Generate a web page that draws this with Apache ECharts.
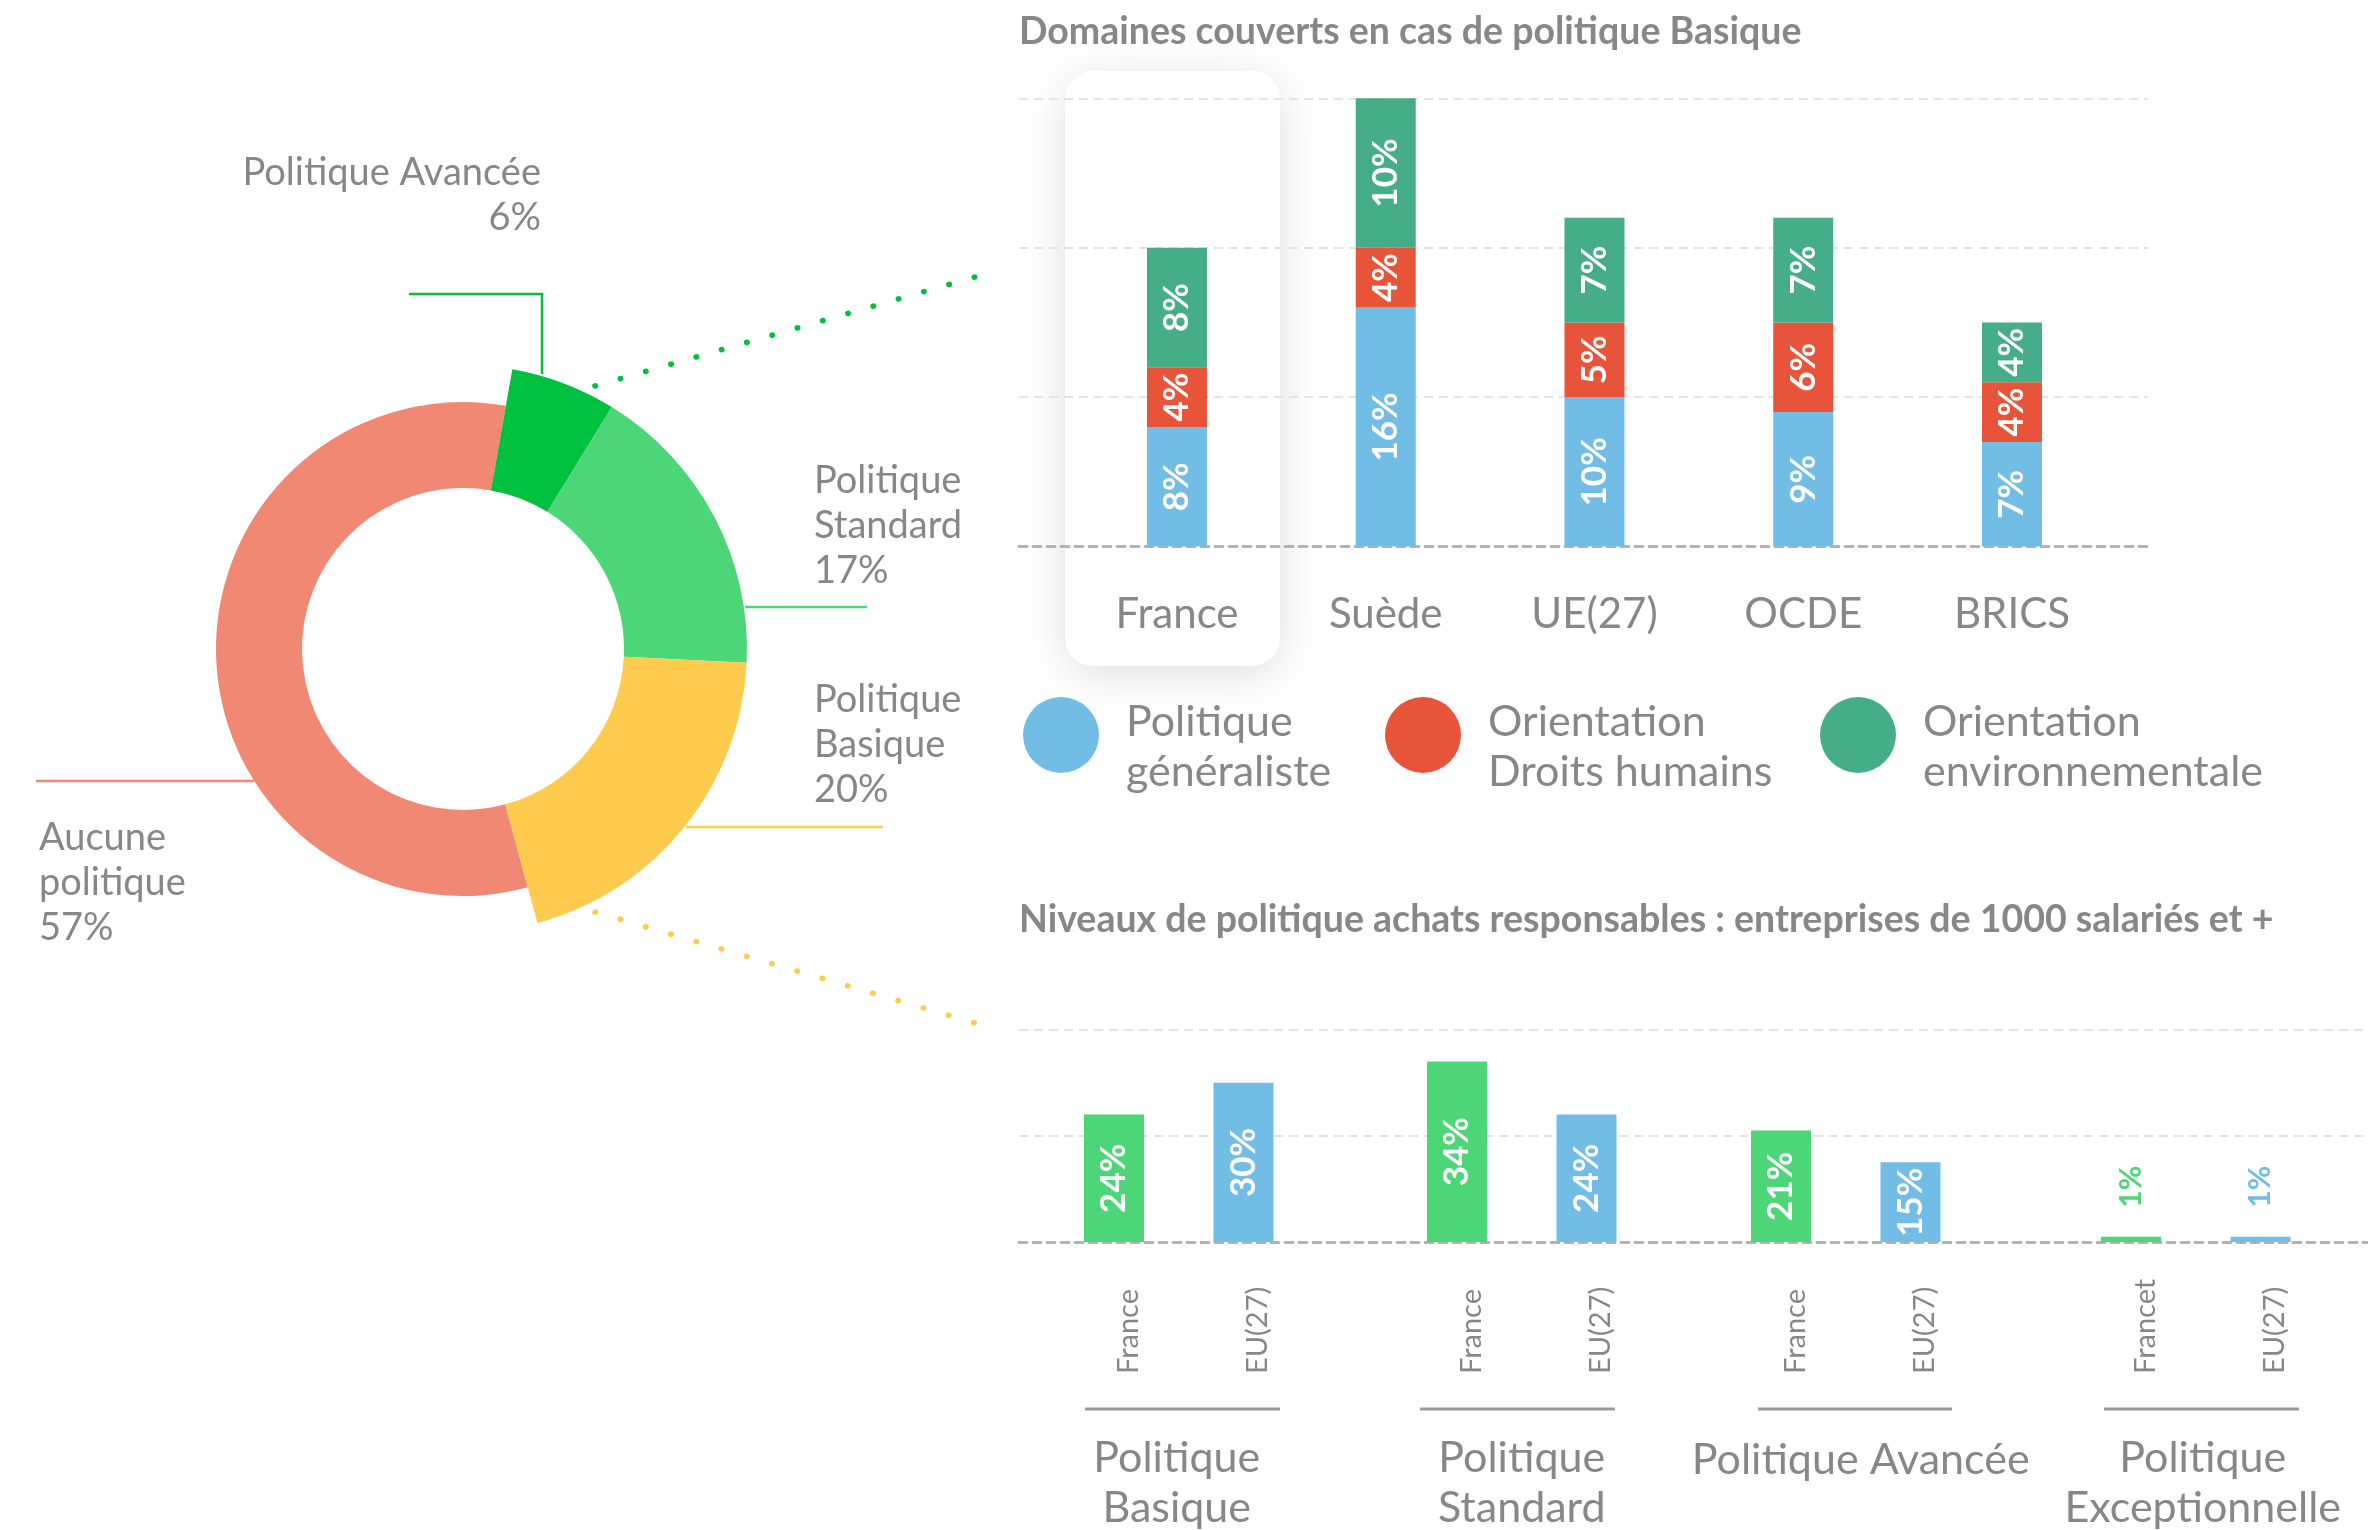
<!DOCTYPE html>
<html>
<head>
<meta charset="utf-8">
<script src="https://cdn.jsdelivr.net/npm/echarts@6/dist/echarts.min.js"></script>
<style>
    html, body { margin: 0; padding: 0; background: #fff; }
    #chart { width: 2368px; height: 1530px; }
</style>
</head>
<body>
<div id="chart"></div>
<script>
// donut
var pieNames = ['Politique Avancée', 'Politique Standard', 'Politique Basique', 'Aucune politique'];
var pieValues = [6, 17, 20, 57];
var pieLabels = ['Politique Avancée\n6%', 'Politique\nStandard\n17%', 'Politique\nBasique\n20%', 'Aucune\npolitique\n57%'];

// Domaines couverts (stacked)
var domainCategories = ['France', 'Suède', 'UE(27)', 'OCDE', 'BRICS'];
var generaliste = [8, 16, 10, 9, 7];
var droitsHumains = [4, 4, 5, 6, 4];
var environnement = [8, 10, 7, 7, 4];
var domainTicks = [0, 10, 20, 30];

// Niveaux de politique
var levelGroups = ['Politique\nBasique', 'Politique\nStandard', 'Politique Avancée', 'Politique\nExceptionnelle'];
var levelCountries = [['France', 'EU(27)'], ['France', 'EU(27)'], ['France', 'EU(27)'], ['Francet', 'EU(27)']];
var levelFrance = [24, 34, 21, 1];
var levelEU = [30, 24, 15, 1];
var levelTicks = [0, 20, 40];

// styles
var FONT = 'Lato, "Noto Sans", sans-serif';
var GREY = '#878787';
var pieColors = ['#00C13E', '#4CD677', '#FECB4F', '#F08873'];
var BLUE = '#72BDE6', RED = '#E8543A', TEAL = '#45AD88';
var FR_GREEN = '#4CD677';

// label spots for the donut (x, y, align, leader line)
var pieLabelSpots = [
    { x: 541, y: 195, align: 'right', line: [[542, 374], [542, 294], [409, 294]] },
    { x: 814, y: 526, align: 'left', line: [[745, 607], [806, 607], [867, 607]] },
    { x: 814, y: 745, align: 'left', line: [[686, 827], [784, 827], [883, 827]] },
    { x: 39, y: 883, align: 'left', line: [[254, 781], [145, 781], [36, 781]] }
];

var groupLefts = [1049.25, 1392.25, 1716.25, 2066.25];
var groupWidth = 259;
var groupRules = [[1085, 1280], [1420, 1615], [1758, 1952], [2104, 2299]];
var groupNameShift = [-2, 0, 15, 7];

var chart = echarts.init(document.getElementById('chart'), null, { renderer: 'canvas' });

function ringData(visible) {
    return pieValues.map(function (v, i) {
        var on = visible(i);
        return {
            name: pieNames[i],
            value: v,
            itemStyle: { color: on ? pieColors[i] : 'rgba(0,0,0,0)' },
            label: { show: on },
            labelLine: { show: on, lineStyle: { color: pieColors[i], width: 2.5 } }
        };
    });
}

var pieCommon = {
    type: 'pie',
    center: [463, 649],
    startAngle: 80,
    clockwise: true,
    silent: true,
    avoidLabelOverlap: false,
    emphasis: { disabled: true },
    label: {
        formatter: function (p) { return pieLabels[p.dataIndex]; },
        color: GREY,
        fontFamily: FONT,
        fontSize: 38,
        lineHeight: 45
    },
    labelLine: { show: true, smooth: false },
    labelLayout: function (p) {
        var s = pieLabelSpots[p.dataIndex];
        return {
            x: s.x,
            y: s.y,
            align: s.align,
            verticalAlign: 'middle',
            labelLinePoints: s.line
        };
    }
};

var grids = [
    { left: 1019, top: 98.3, width: 1129, height: 448.2 },      // background lines top
    { left: 1072.6, top: 98.3, width: 1043.75, height: 448.2 }, // stacked bars
    { left: 1019, top: 1029.6, right: 0, height: 212.4 }        // background lines bottom
];
groupLefts.forEach(function (l) {
    grids.push({ left: l, top: 1029.6, width: groupWidth, height: 212.4 });
});
grids.forEach(function (g) { g.outerBoundsMode = 'none'; });

var dashedBase = { show: true, lineStyle: { color: '#b3b3b3', width: 3, type: [8, 6] } };
var dashedGrid = { show: true, showMinLine: false, lineStyle: { color: '#e3e3e3', width: 2, type: [9, 6] } };

var xAxes = [
    { type: 'category', gridIndex: 0, data: [''], axisLine: dashedBase, axisTick: { show: false }, axisLabel: { show: false } },
    {
        type: 'category', gridIndex: 1, data: domainCategories,
        axisLine: { show: false }, axisTick: { show: false },
        axisLabel: { interval: 0, margin: 47, color: GREY, fontFamily: FONT, fontSize: 42, lineHeight: 42 }
    },
    { type: 'category', gridIndex: 2, data: [''], axisLine: dashedBase, axisTick: { show: false }, axisLabel: { show: false } }
];
var yAxes = [
    { type: 'value', gridIndex: 0, min: domainTicks[0], max: domainTicks[domainTicks.length - 1], interval: 10,
      axisLine: { show: false }, axisTick: { show: false }, axisLabel: { show: false }, splitLine: dashedGrid },
    { type: 'value', gridIndex: 1, min: domainTicks[0], max: domainTicks[domainTicks.length - 1], show: false },
    { type: 'value', gridIndex: 2, min: levelTicks[0], max: levelTicks[levelTicks.length - 1], interval: 20,
      axisLine: { show: false }, axisTick: { show: false }, axisLabel: { show: false }, splitLine: dashedGrid }
];

var series = [
    Object.assign({}, pieCommon, { radius: [161, 247], data: ringData(function (i) { return i === 3; }) }),
    Object.assign({}, pieCommon, { radius: [161, 284], data: ringData(function (i) { return i !== 3; }) })
];

var stackLabel = {
    show: true, position: 'inside', rotate: 90,
    color: '#fff', fontFamily: FONT, fontWeight: 'bold', fontSize: 35,
    formatter: '{c}%'
};
[['Politique généraliste', generaliste, BLUE],
 ['Orientation Droits humains', droitsHumains, RED],
 ['Orientation environnementale', environnement, TEAL]].forEach(function (s) {
    series.push({
        name: s[0], type: 'bar', stack: 'domaines',
        xAxisIndex: 1, yAxisIndex: 1,
        barWidth: 60, silent: true,
        itemStyle: { color: s[2] },
        label: stackLabel,
        data: s[1]
    });
});

levelGroups.forEach(function (g, k) {
    var gi = 3 + k;
    xAxes.push({
        type: 'category', gridIndex: gi, position: 'bottom', data: levelCountries[k],
        axisLine: { show: false }, axisTick: { show: false },
        axisLabel: { interval: 0, rotate: 90, margin: 132, align: 'left', verticalAlign: 'top',
                     color: GREY, fontFamily: FONT, fontSize: 29 }
    });
    yAxes.push({ type: 'value', gridIndex: gi, min: levelTicks[0], max: levelTicks[levelTicks.length - 1], show: false });
    var vals = [levelFrance[k], levelEU[k]];
    var cols = [FR_GREEN, BLUE];
    series.push({
        type: 'bar', xAxisIndex: 3 + k * 2, yAxisIndex: gi,
        barWidth: 60, silent: true,
        label: stackLabel,
        data: vals.map(function (v, i) {
            var item = { value: v, itemStyle: { color: cols[i] } };
            if (v < 5) {
                item.label = { position: 'top', distance: 29, align: 'left', verticalAlign: 'middle',
                               color: cols[i], fontSize: 30 };
            }
            return item;
        })
    });
    var sh = groupNameShift[k];
    xAxes.push({
        type: 'category', gridIndex: gi, position: 'bottom', data: [g],
        axisLine: { show: false }, axisTick: { show: false },
        axisLabel: { interval: 0, margin: g.indexOf('\n') >= 0 ? 191 : 193,
                     padding: [0, sh < 0 ? -2 * sh : 0, 0, sh > 0 ? 2 * sh : 0],
                     color: GREY, fontFamily: FONT, fontSize: 43, lineHeight: 50 }
    });
});

var legendLefts = [1023, 1385, 1820];
var legendNames = ['Politique généraliste', 'Orientation Droits humains', 'Orientation environnementale'];
var legends = legendNames.map(function (n, i) {
    return {
        data: [n], left: legendLefts[i], top: 680,
        icon: 'circle', itemWidth: 76, itemHeight: 76,
        selectedMode: false, padding: 0,
        formatter: function (name) {
            var parts = name.split(' ');
            return '{s| }\n{t|' + parts[0] + '}\n{t|' + parts.slice(1).join(' ') + '}';
        },
        textStyle: {
            padding: [0, 0, 0, 22],
            rich: {
                s: { fontSize: 10, lineHeight: 24 },
                t: { color: GREY, fontFamily: FONT, fontSize: 43, lineHeight: 50 }
            }
        }
    };
});

var graphics = [
    {   // highlight card behind France
        type: 'rect', z: -1,
        shape: { x: 1065, y: 71, width: 215, height: 595, r: 28 },
        style: { fill: '#fff', shadowBlur: 45, shadowColor: 'rgba(0,0,0,0.13)', shadowOffsetY: 8 }
    },
    {
        type: 'polyline', z: 1,
        shape: { points: [[595, 386], [989, 273]] },
        style: { stroke: pieColors[0], lineWidth: 5.5, lineCap: 'round', lineDash: [0.5, 25.8], fill: null }
    },
    {
        type: 'polyline', z: 1,
        shape: { points: [[595, 912], [989, 1027]] },
        style: { stroke: pieColors[2], lineWidth: 5.5, lineCap: 'round', lineDash: [0.5, 25.8], fill: null }
    }
];
groupRules.forEach(function (r) {
    graphics.push({
        type: 'line', z: 1,
        shape: { x1: r[0], y1: 1409, x2: r[1], y2: 1409 },
        style: { stroke: '#9a9a9a', lineWidth: 3 }
    });
});

var titleStyle = { color: GREY, fontFamily: FONT, fontWeight: 'bold', fontSize: 37.5, lineHeight: 37 };
var option = {
    backgroundColor: '#fff',
    animation: false,
    title: [
        { text: 'Domaines couverts en cas de politique Basique', left: 1019, top: 13, padding: 0, textStyle: titleStyle },
        { text: 'Niveaux de politique achats responsables : entreprises de 1000 salariés et +', left: 1019, top: 901, padding: 0, textStyle: titleStyle }
    ],
    legend: legends,
    grid: grids,
    xAxis: xAxes,
    yAxis: yAxes,
    graphic: { elements: graphics },
    series: series
};

chart.setOption(option);
window.addEventListener('resize', chart.resize);
</script>
</body>
</html>
